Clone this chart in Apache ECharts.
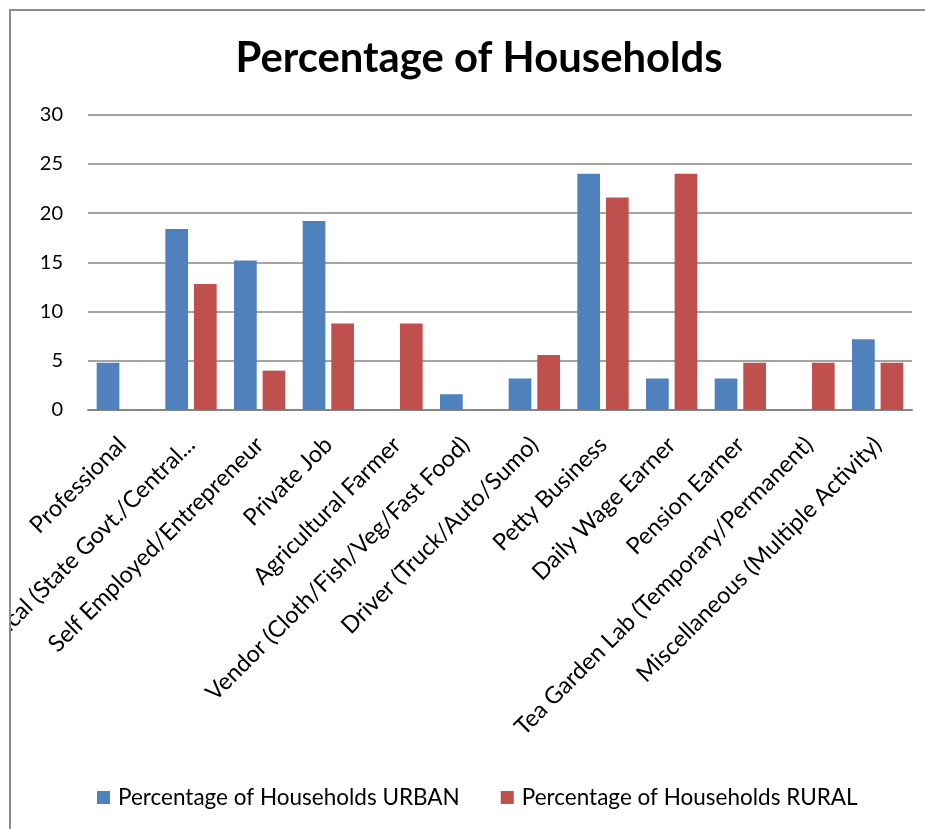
<!DOCTYPE html>
<html>
<head>
<meta charset="utf-8">
<script src="https://cdn.jsdelivr.net/npm/echarts@6/dist/echarts.min.js"></script>
<style>
html,body{margin:0;padding:0;background:#fff;}
#chart{width:925px;height:829px;}
</style>
</head>
<body>
<div id="chart"></div>
<script>
const categories = [
  "Professional",
  "Clerical (State Govt./Central...",
  "Self Employed/Entrepreneur",
  "Private Job",
  "Agricultural Farmer",
  "Vendor (Cloth/Fish/Veg/Fast Food)",
  "Driver (Truck/Auto/Sumo)",
  "Petty Business",
  "Daily Wage Earner",
  "Pension Earner",
  "Tea Garden Lab (Temporary/Permanent)",
  "Miscellaneous (Multiple Activity)"
];
const urban = [4.8, 18.4, 15.2, 19.2, 0, 1.6, 3.2, 24.0, 3.2, 3.2, 0, 7.2];
const rural = [0, 12.8, 4.0, 8.8, 8.8, 0, 5.6, 21.6, 24.0, 4.8, 4.8, 4.8];
const seriesNames = ["Percentage of Households URBAN", "Percentage of Households RURAL"];
const yTicks = [0, 5, 10, 15, 20, 25, 30];

const FONT = 'Lato, "Open Sans", sans-serif';
const chart = echarts.init(document.getElementById('chart'), null, {renderer: 'canvas'});
chart.setOption({
  backgroundColor: '#ffffff',
  animation: false,
  title: {
    text: 'Percentage of Households',
    left: 474,
    top: 33,
    textAlign: 'center',
    textStyle: {fontFamily: FONT, fontWeight: 'bold', fontSize: 41.8, color: '#000'}
  },
  legend: {
    bottom: 20,
    left: 97,
    padding: 0,
    itemWidth: 13,
    itemHeight: 13,
    itemGap: 41,
    icon: 'rect',
    textStyle: {fontFamily: FONT, fontSize: 22.5, color: '#000', padding: [0, 0, 0, 3]},
    data: seriesNames
  },
  grid: {left: 88, right: 13, top: 114.7, bottom: 419, containLabel: false, outerBoundsMode: 'none'},
  xAxis: {
    type: 'category',
    data: categories,
    axisLine: {lineStyle: {color: '#868686', width: 2}},
    axisTick: {show: false},
    axisLabel: {rotate: 45, interval: 0, fontFamily: FONT, fontSize: 23.5, color: '#000', margin: 31}
  },
  yAxis: {
    type: 'value',
    min: yTicks[0],
    max: yTicks[yTicks.length - 1],
    interval: 5,
    axisLine: {show: false},
    axisTick: {show: false},
    splitLine: {lineStyle: {color: '#868686', width: 1.5}},
    axisLabel: {fontFamily: FONT, fontSize: 20, color: '#000', margin: 25}
  },
  series: [
    {name: seriesNames[0], type: 'bar', data: urban, barWidth: 22.7, barGap: '26%',
     itemStyle: {color: '#4F81BD'}},
    {name: seriesNames[1], type: 'bar', data: rural, barWidth: 22.7, barGap: '26%',
     itemStyle: {color: '#C0504D'}}
  ],
  graphic: [
    {type: 'rect', z: 100, shape: {x: 0, y: 0, width: 9, height: 829}, style: {fill: '#fff'}},
    {type: 'rect', z: 101, shape: {x: 10, y: 10, width: 940, height: 840},
     style: {fill: 'none', stroke: '#8c8c8c', lineWidth: 2}}
  ]
});
</script>
</body>
</html>
